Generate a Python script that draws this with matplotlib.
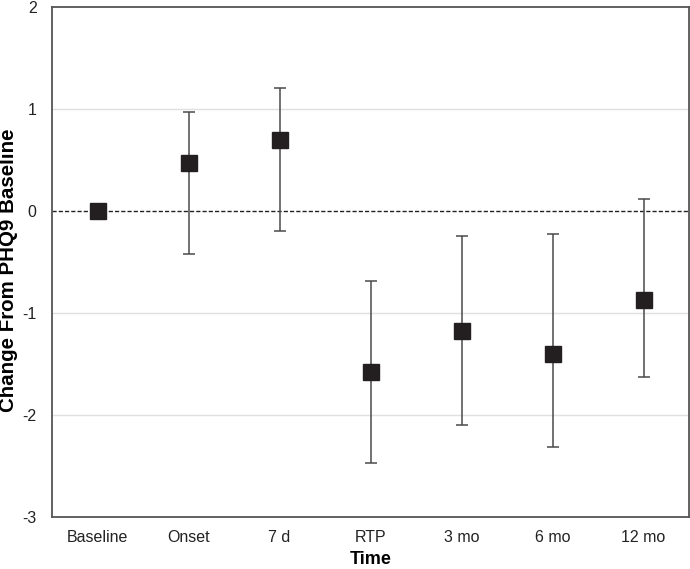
import matplotlib.pyplot as plt
import numpy as np

plt.rcParams["font.family"] = ["Liberation Sans", "DejaVu Sans"]
plt.rcParams["axes.unicode_minus"] = False

# Data
labels = ["Baseline", "Onset", "7 d", "RTP", "3 mo", "6 mo", "12 mo"]
means = [0.0, 0.47, 0.70, -1.58, -1.18, -1.40, -0.87]
upper = [0.0, 0.97, 1.21, -0.69, -0.25, -0.23, 0.12]
lower = [0.0, -0.42, -0.20, -2.47, -2.10, -2.31, -1.63]

fig = plt.figure(figsize=(6.9, 5.69), dpi=100)
ax = fig.add_axes([52 / 690, 1 - 517 / 569, 637 / 690, 510 / 569])

x = np.arange(len(labels))
m = np.array(means)
yerr = np.array([m - np.array(lower), np.array(upper) - m])

# gridlines
for g in [-2, -1, 1]:
    ax.axhline(g, color="#e0e0e0", lw=1, zorder=0)
ax.axhline(0, color="#222222", lw=1, ls=(0, (3, 1.5)), zorder=1)

ax.errorbar(x, m, yerr=yerr, fmt="none", ecolor="#4a4a4a", elinewidth=1.1,
            capsize=4, capthick=1.1, zorder=2)
ax.plot(x, m, ls="none", marker="s", markersize=11, color="#231f20", zorder=3)

ax.set_xlim(-0.5, len(labels) - 0.5)
ax.set_ylim(-3, 2)
ax.set_yticks([-3, -2, -1, 0, 1, 2])
ax.set_xticks(x)
ax.set_xticklabels(labels)
ax.tick_params(axis="both", length=0, labelsize=11.5, colors="#222222")
ax.tick_params(axis="x", pad=9)
ax.tick_params(axis="y", pad=11)

for s in ax.spines.values():
    s.set_color("#555555")
    s.set_linewidth(1.3)

ax.set_xlabel("Time", fontsize=13, fontweight="bold")
ax.xaxis.set_label_coords(0.5, -0.084)
ax.xaxis.label.set_va("center")
ax.set_ylabel("Change From PHQ9 Baseline", fontsize=14.8, fontweight="bold")
ax.yaxis.set_label_coords(-0.068, 0.484)
ax.yaxis.label.set_va("center")

fig.savefig("out.png", dpi=100)
